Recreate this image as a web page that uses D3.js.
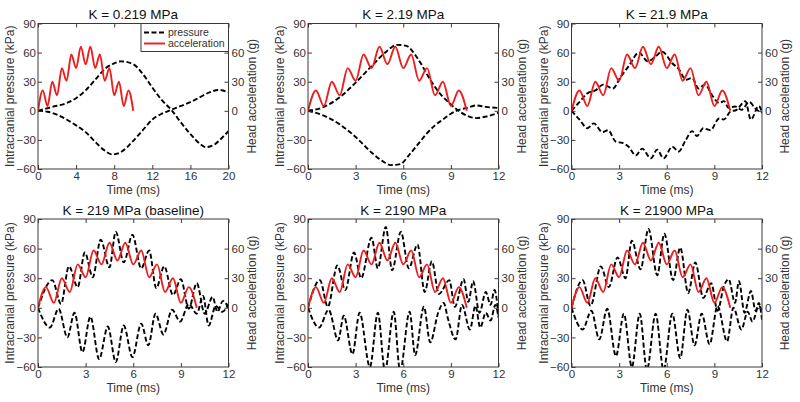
<!DOCTYPE html>
<html>
<head>
<meta charset="utf-8">
<script src="https://cdn.jsdelivr.net/npm/d3@7"></script>
<style>
  body { margin: 0; background: #fff; }
  text { font-family: "Liberation Sans", Arial, sans-serif; fill: #333; }
</style>
</head>
<body>
<svg id="chart" width="800" height="402"></svg>
<script>
// ---- data ----
const titles = ["K = 0.219 MPa", "K = 2.19 MPa", "K = 21.9 MPa",
  "K = 219 MPa (baseline)", "K = 2190 MPa", "K = 21900 MPa"];
const timeMax = [20, 12, 12, 12, 12, 12];
const timeTicks = [[0, 4, 8, 12, 16, 20], [0, 3, 6, 9, 12], [0, 3, 6, 9, 12],
  [0, 3, 6, 9, 12], [0, 3, 6, 9, 12], [0, 3, 6, 9, 12]];
const pressureTicks = [-60, -30, 0, 30, 60, 90];
const accelTicks = [0, 30, 60];

// head acceleration (g), same pulse in every panel: [time ms, g]
const accel = [[0, 0], [0.5, 21], [1, 5], [1.5, 30], [2, 16], [2.5, 44], [3, 31], [3.5, 58],
  [4, 44], [4.5, 66], [5, 48], [5.5, 66], [6, 44], [6.5, 58], [7, 31], [7.5, 44],
  [8, 16], [8.5, 30], [9, 5], [9.5, 21], [10, 0]];

// intracranial pressure (kPa), two sites per panel: [time ms, kPa]
const p1Upper = [[0, 0], [1.5, 4], [3, 8], [4, 13], [5, 21], [6, 32], [7, 43], [8, 49], [8.7, 51],
  [10, 48], [11, 38], [12, 24], [13, 11], [14, 1], [15, -12], [16, -24], [17, -34], [17.6, -37.5],
  [18.5, -35], [19.3, -28], [20, -21]];
const p1Lower = [[0, 0], [1, -1], [2, -4], [3, -9], [4, -15], [5, -22], [6, -32], [7, -41], [7.8, -45],
  [8.8, -42], [9.8, -33], [11, -20], [12, -9], [13, -3], [14, 1], [15, 5], [16, 9], [17, 14],
  [18, 19], [19, 21.5], [20, 19]];

const p2Upper = [[0, 0], [1, 4], [2, 14], [3, 29], [4, 46], [5, 62], [5.6, 68], [6.2, 67], [6.6, 61],
  [7.1, 49], [7.7, 32], [8.3, 18], [8.9, 8], [9.4, 1], [10, -5], [10.6, -7.5], [11.2, -6], [12, -2]];
const p2Lower = [[0, 0], [1, -5], [2, -14], [3, -27], [4, -43], [4.8, -53], [5.2, -56], [5.8, -55],
  [6.4, -45], [7, -33], [7.5, -23], [8, -15], [8.5, -9], [9, -3], [9.5, 1], [10, 3], [10.6, 5.5],
  [11.2, 4], [12, 3]];

const p3Upper = [[0, 0], [0.5, 9], [1, 18], [1.5, 21], [2, 27], [2.6, 23], [3.1, 35], [3.6, 46],
  [4.25, 60], [4.8, 51], [5.3, 56], [5.7, 61], [6.35, 49], [6.8, 42], [7.2, 32], [7.6, 34], [8, 23],
  [8.4, 27], [8.9, 15], [9.3, 8], [9.6, 10], [9.9, 3], [10.3, 4.5], [10.7, 1], [11.2, 9], [11.6, 2],
  [12, -2]];
const p3Lower = [[0, 0], [0.5, -9], [1, -18], [1.4, -13], [1.95, -22], [2.3, -20], [2.8, -32],
  [3.2, -33], [3.6, -37], [4.05, -46], [4.45, -39], [5, -49], [5.4, -40], [5.8, -49], [6.35, -37],
  [6.75, -42], [7.2, -30], [7.6, -21], [7.9, -26], [8.3, -18], [8.75, -20], [9.3, -8], [9.6, -9],
  [10, -1], [10.4, 1], [10.95, 10], [11.3, -9], [11.8, 5], [12, -1]];

const p4Upper = [[0, 0], [0.9, 28], [1.45, 4], [1.95, 42], [2.5, 21], [2.95, 56], [3.45, 31],
  [3.95, 69], [4.5, 41], [4.9, 77], [5.4, 46], [5.95, 74], [6.5, 40], [7, 58], [7.45, 20],
  [7.95, 42], [8.5, 13], [9, 29], [9.5, -1], [10, 25], [10.5, -6], [11, 11], [11.3, -4],
  [11.65, 7], [12, 0]];
const p4Lower = [[0, 0], [0.75, -20], [1.3, -1], [1.85, -30], [2.3, -5], [2.8, -45], [3.3, -9],
  [3.85, -52], [4.4, -19], [4.9, -55], [5.4, -18], [5.95, -50], [6.5, -16], [6.95, -38], [7.4, -6],
  [7.9, -27], [8.45, -2], [8.95, -14], [9.5, 4], [10, -6], [10.4, 12], [10.75, -18], [11.2, 2],
  [11.6, -4], [12, 4]];

const p5Upper = [[0, 0], [0.75, 28], [1.25, 1], [1.85, 43], [2.35, 18], [2.9, 56], [3.35, 30],
  [4, 71], [4.4, 40], [4.9, 82], [5.3, 38], [5.85, 77], [6.35, 40], [6.9, 64], [7.35, 16],
  [7.8, 47], [8.25, 14], [8.9, 28], [9.25, 1], [9.8, 29], [10.1, 6], [10.4, 27], [10.8, -5],
  [11.2, 16], [11.5, 3], [11.75, 18], [12, -8]];
const p5Lower = [[0, 0], [0.7, -20], [1.3, -2], [1.9, -33], [2.25, -8], [2.8, -47], [3.25, -5],
  [3.9, -60], [4.4, -5], [4.85, -64], [5.4, -4], [5.8, -64], [6.4, -4], [6.75, -48], [7.3, 1],
  [7.7, -35], [8.2, -5], [8.55, 5], [8.8, -10], [9.3, -32], [9.7, 3], [10.2, -22], [10.55, 2],
  [10.85, -20], [11.2, -5], [11.5, -13], [11.8, 3], [12, -10]];

const p6Upper = [[0, 0], [0.7, 28], [1.2, 2], [1.85, 42], [2.35, 21], [2.9, 51], [3.4, 30],
  [3.8, 68], [4.35, 39], [4.85, 80], [5.4, 33], [5.85, 75], [6.4, 28], [6.85, 61], [7.35, 15],
  [7.8, 46], [8.3, 10], [8.8, 25], [9.2, -3], [9.6, 22], [9.9, 29], [10.3, 5], [10.55, 27],
  [10.9, -5], [11.3, 17], [11.6, -3], [11.8, 5], [12, -12]];
const p6Lower = [[0, 0], [0.7, -22], [1.25, -3], [1.75, -32], [2.25, -1], [2.8, -49], [3.3, -6],
  [3.8, -60], [4.3, -6], [4.75, -63], [5.3, -6], [5.8, -63], [6.35, -6], [6.85, -51], [7.3, -2],
  [7.75, -38], [8.2, -6], [8.7, -37], [9.2, 2], [9.8, -34], [10.2, 0], [10.7, -22], [11.1, -4],
  [11.4, -14], [11.8, 2], [12, -3]];

const pressure = [[p1Upper, p1Lower], [p2Upper, p2Lower], [p3Upper, p3Lower],
  [p4Upper, p4Lower], [p5Upper, p5Lower], [p6Upper, p6Lower]];

// ---- layout ----
const cols = [[38, 228.5], [308, 498.5], [571.5, 762]];
const rows = [[23.5, 169], [219, 367]];
const red = "#ee1c1c";
const frameColor = "#3a3a3a";

const svg = d3.select("#chart");

titles.forEach(function (title, i) {
  const [x0, x1] = cols[i % 3];
  const [y0, y1] = rows[Math.floor(i / 3)];

  const x = d3.scaleLinear().domain([0, timeMax[i]]).range([x0, x1]);
  const y = d3.scaleLinear().domain([-60, 90]).range([y1, y0]);

  const g = svg.append("g").attr("class", "panel");

  g.append("clipPath").attr("id", "clip" + i)
    .append("rect")
    .attr("x", x0).attr("y", y0)
    .attr("width", x1 - x0).attr("height", y1 - y0);

  const line = d3.line()
    .x(d => x(d[0]))
    .y(d => y(d[1]))
    .curve(d3.curveMonotoneX);

  const plot = g.append("g").attr("clip-path", `url(#clip${i})`);

  plot.selectAll(".pressure")
    .data(pressure[i])
    .enter()
    .append("path")
    .attr("class", "pressure")
    .attr("d", line)
    .style("fill", "none")
    .style("stroke", "#000")
    .style("stroke-width", "1.9px")
    .style("stroke-dasharray", "5,2.5");

  plot.append("path")
    .datum(accel)
    .attr("d", line)
    .style("fill", "none")
    .style("stroke", red)
    .style("stroke-width", "1.9px");

  // axes with inward ticks
  const styleAxis = function (sel) {
    sel.select(".domain").remove();
    sel.selectAll(".tick line").style("stroke", frameColor);
    sel.selectAll(".tick text")
      .style("font-family", '"Liberation Sans", Arial, sans-serif')
      .style("font-size", "11.5px")
      .style("fill", "#333");
  };

  g.append("g")
    .attr("transform", `translate(0 ${y1})`)
    .call(d3.axisBottom(x).tickValues(timeTicks[i]).tickSize(-4).tickPadding(2.5))
    .call(styleAxis);

  g.append("g")
    .attr("transform", `translate(0 ${y0})`)
    .call(d3.axisTop(x).tickValues(timeTicks[i]).tickSize(-4).tickFormat(""))
    .call(styleAxis);

  g.append("g")
    .attr("transform", `translate(${x0} 0)`)
    .call(d3.axisLeft(y).tickValues(pressureTicks).tickSize(-4).tickPadding(2))
    .call(styleAxis);

  g.append("g")
    .attr("transform", `translate(${x1} 0)`)
    .call(d3.axisRight(y).tickValues(accelTicks).tickSize(-4).tickPadding(3))
    .call(styleAxis);

  g.append("rect")
    .attr("x", x0).attr("y", y0)
    .attr("width", x1 - x0).attr("height", y1 - y0)
    .style("fill", "none")
    .style("stroke", frameColor)
    .style("stroke-width", "1px");

  // texts
  g.append("text")
    .attr("x", (x0 + x1) / 2)
    .attr("y", y0 - 4.5)
    .attr("text-anchor", "middle")
    .style("font-size", "13.5px")
    .style("fill", "#111")
    .text(title);

  g.append("text")
    .attr("x", (x0 + x1) / 2)
    .attr("y", y1 + 24.5)
    .attr("text-anchor", "middle")
    .style("font-size", "12px")
    .text("Time (ms)");

  g.append("text")
    .attr("transform", `translate(${x0 - 24} ${(y0 + y1) / 2}) rotate(-90)`)
    .attr("text-anchor", "middle")
    .style("font-size", "12px")
    .text("Intracranial pressure (kPa)");

  g.append("text")
    .attr("transform", `translate(${x1 + 27} ${(y0 + y1) / 2}) rotate(-90)`)
    .attr("text-anchor", "middle")
    .style("font-size", "12px")
    .text("Head acceleration (g)");

  // legend only in the first panel
  if (i === 0) {
    const lg = g.append("g");
    lg.append("rect")
      .attr("x", 141).attr("y", y0)
      .attr("width", x1 - 141).attr("height", 28)
      .style("fill", "#fff")
      .style("stroke", frameColor)
      .style("stroke-width", "1px");
    const items = [
      { label: "pressure", dash: "5,2.5", color: "#000" },
      { label: "acceleration", dash: null, color: red }
    ];
    items.forEach(function (d, k) {
      const ly = y0 + 9 + k * 11;
      lg.append("line")
        .attr("x1", 144).attr("x2", 165)
        .attr("y1", ly).attr("y2", ly)
        .style("stroke", d.color)
        .style("stroke-width", "1.9px")
        .style("stroke-dasharray", d.dash);
      lg.append("text")
        .attr("x", 168).attr("y", ly)
        .attr("dy", "0.35em")
        .style("font-size", "10.5px")
        .text(d.label);
    });
  }
});
</script>
</body>
</html>
